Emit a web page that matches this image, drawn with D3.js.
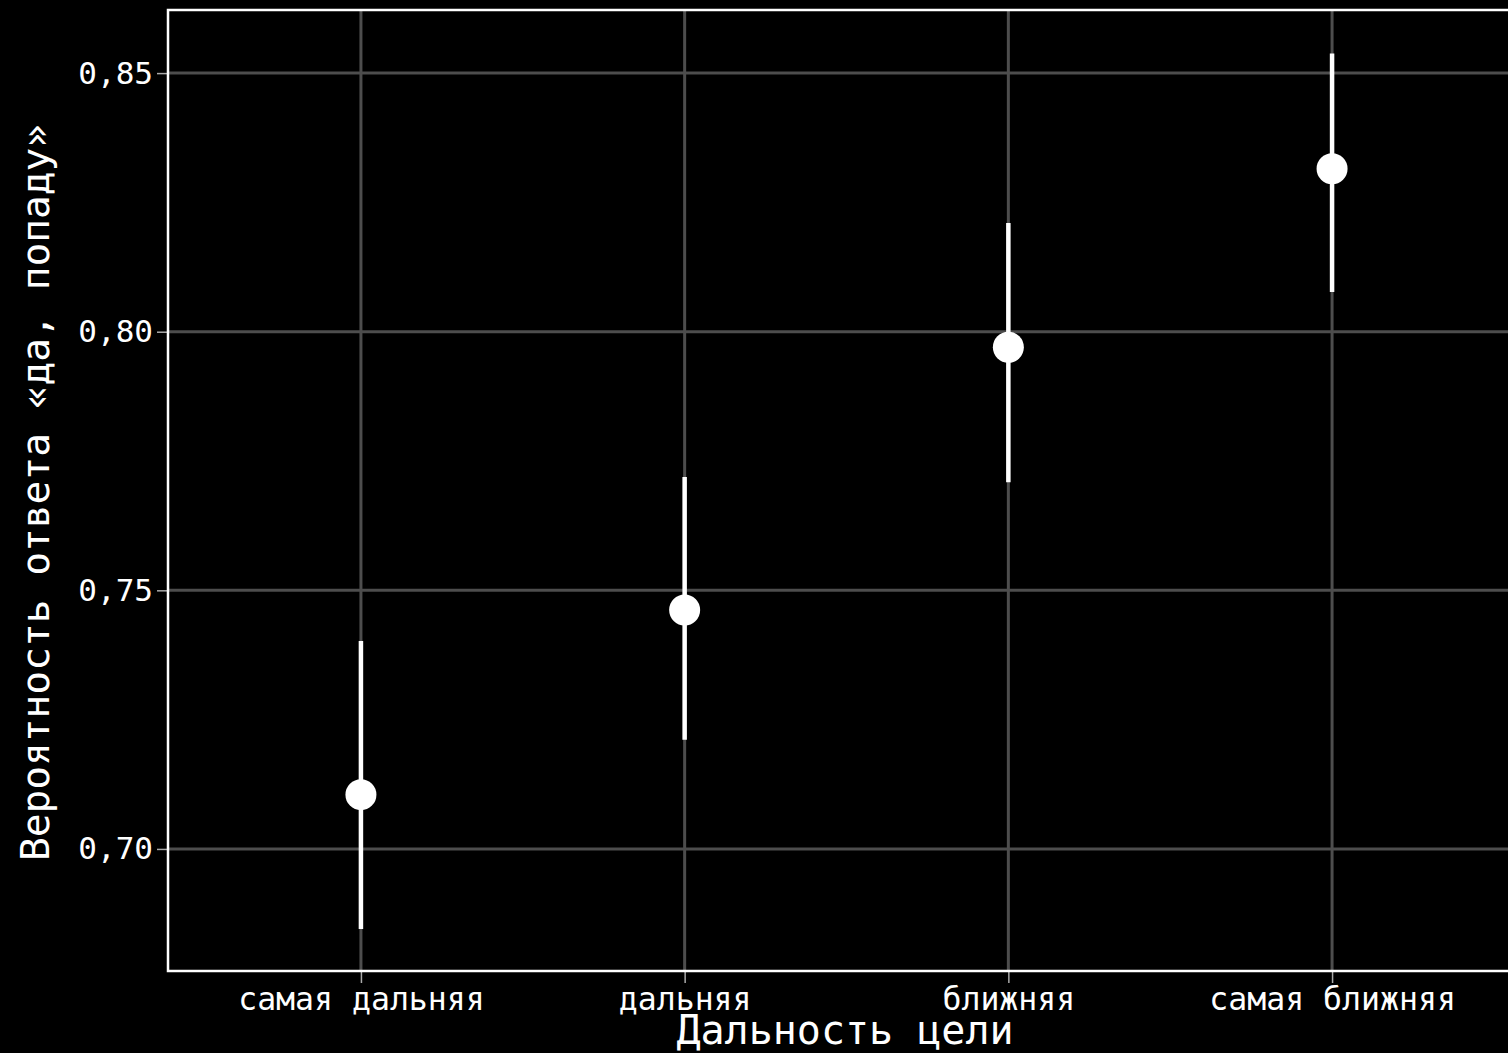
<!DOCTYPE html>
<html>
<head>
<meta charset="utf-8">
<script src="https://cdn.jsdelivr.net/npm/d3@7"></script>
<style>
  html, body { margin: 0; padding: 0; background: #000; }
  svg { display: block; }
  text { font-family: "DejaVu Sans Mono", monospace; fill: #fff; }
</style>
</head>
<body>
<svg id="chart" width="1508" height="1053"></svg>
<script>
// Distance categories and estimated probability of a "yes, I'll hit" answer
const categories = ["самая дальняя", "дальняя", "ближняя", "самая ближняя"];
const estimates  = [0.7105, 0.7462, 0.7970, 0.8315];
const lowerCI    = [0.6845, 0.7211, 0.7709, 0.8077];
const upperCI    = [0.7402, 0.7719, 0.8210, 0.8538];
const yTicks     = [0.70, 0.75, 0.80, 0.85];

const svg = d3.select("#chart");
const panel = { left: 168, top: 10, bottom: 971, right: 1525 };

const x = d3.scalePoint().domain(categories).range([panel.left, panel.right]).padding(0.596);
const y = d3.scaleLinear().domain([0.6764, 0.8622]).range([panel.bottom, panel.top]);

const fmt = v => d3.format(".2f")(v).replace(".", ",");

// grid
const grid = svg.append("g");
grid.selectAll(".gy").data(yTicks).join("line")
  .attr("x1", panel.left).attr("x2", panel.right)
  .attr("y1", d => y(d)).attr("y2", d => y(d))
  .attr("stroke", "#4d4d4d").attr("stroke-width", 3);
grid.selectAll(".gx").data(categories).join("line")
  .attr("x1", d => x(d)).attr("x2", d => x(d))
  .attr("y1", panel.top).attr("y2", panel.bottom)
  .attr("stroke", "#4d4d4d").attr("stroke-width", 3);

// axes
const yAxis = svg.append("g").attr("transform", `translate(${panel.left},0)`)
  .call(d3.axisLeft(y).tickValues(yTicks).tickFormat(fmt).tickSize(11).tickPadding(4));
const xAxis = svg.append("g").attr("transform", `translate(0,${panel.bottom})`)
  .call(d3.axisBottom(x).tickSize(12).tickPadding(5));
[yAxis, xAxis].forEach(a => {
  a.select(".domain").remove();
  a.selectAll(".tick line").attr("stroke", "#aaa").attr("stroke-width", 1.5);
  a.selectAll(".tick text").attr("fill", "#fff")
    .style("font-family", "'DejaVu Sans Mono', monospace");
});
yAxis.selectAll(".tick text").style("font-size", "31px");
xAxis.selectAll(".tick text").style("font-size", "31.5px");

// panel border (left, top, bottom)
svg.append("path")
  .attr("d", `M${panel.right + 10},${panel.top}H${panel.left}V${panel.bottom}H${panel.right + 10}`)
  .attr("fill", "none").attr("stroke", "#fff").attr("stroke-width", 2.5);

// interval bars
svg.append("g").selectAll("line").data(categories).join("line")
  .attr("x1", d => x(d)).attr("x2", d => x(d))
  .attr("y1", (d, i) => y(lowerCI[i])).attr("y2", (d, i) => y(upperCI[i]))
  .attr("stroke", "#fff").attr("stroke-width", 4.5);

// point estimates
svg.append("g").selectAll("circle").data(categories).join("circle")
  .attr("cx", d => x(d)).attr("cy", (d, i) => y(estimates[i]))
  .attr("r", 15.5).attr("fill", "#fff");

// axis titles
svg.append("text").attr("x", 845).attr("y", 1044).attr("text-anchor", "middle")
  .style("font-size", "40px").text("Дальность цели");
svg.append("text").attr("transform", `translate(49,${(panel.top + panel.bottom) / 2 + 2}) rotate(-90)`)
  .attr("text-anchor", "middle").style("font-size", "39.5px")
  .text("Вероятность ответа «да, попаду»");
</script>
</body>
</html>
